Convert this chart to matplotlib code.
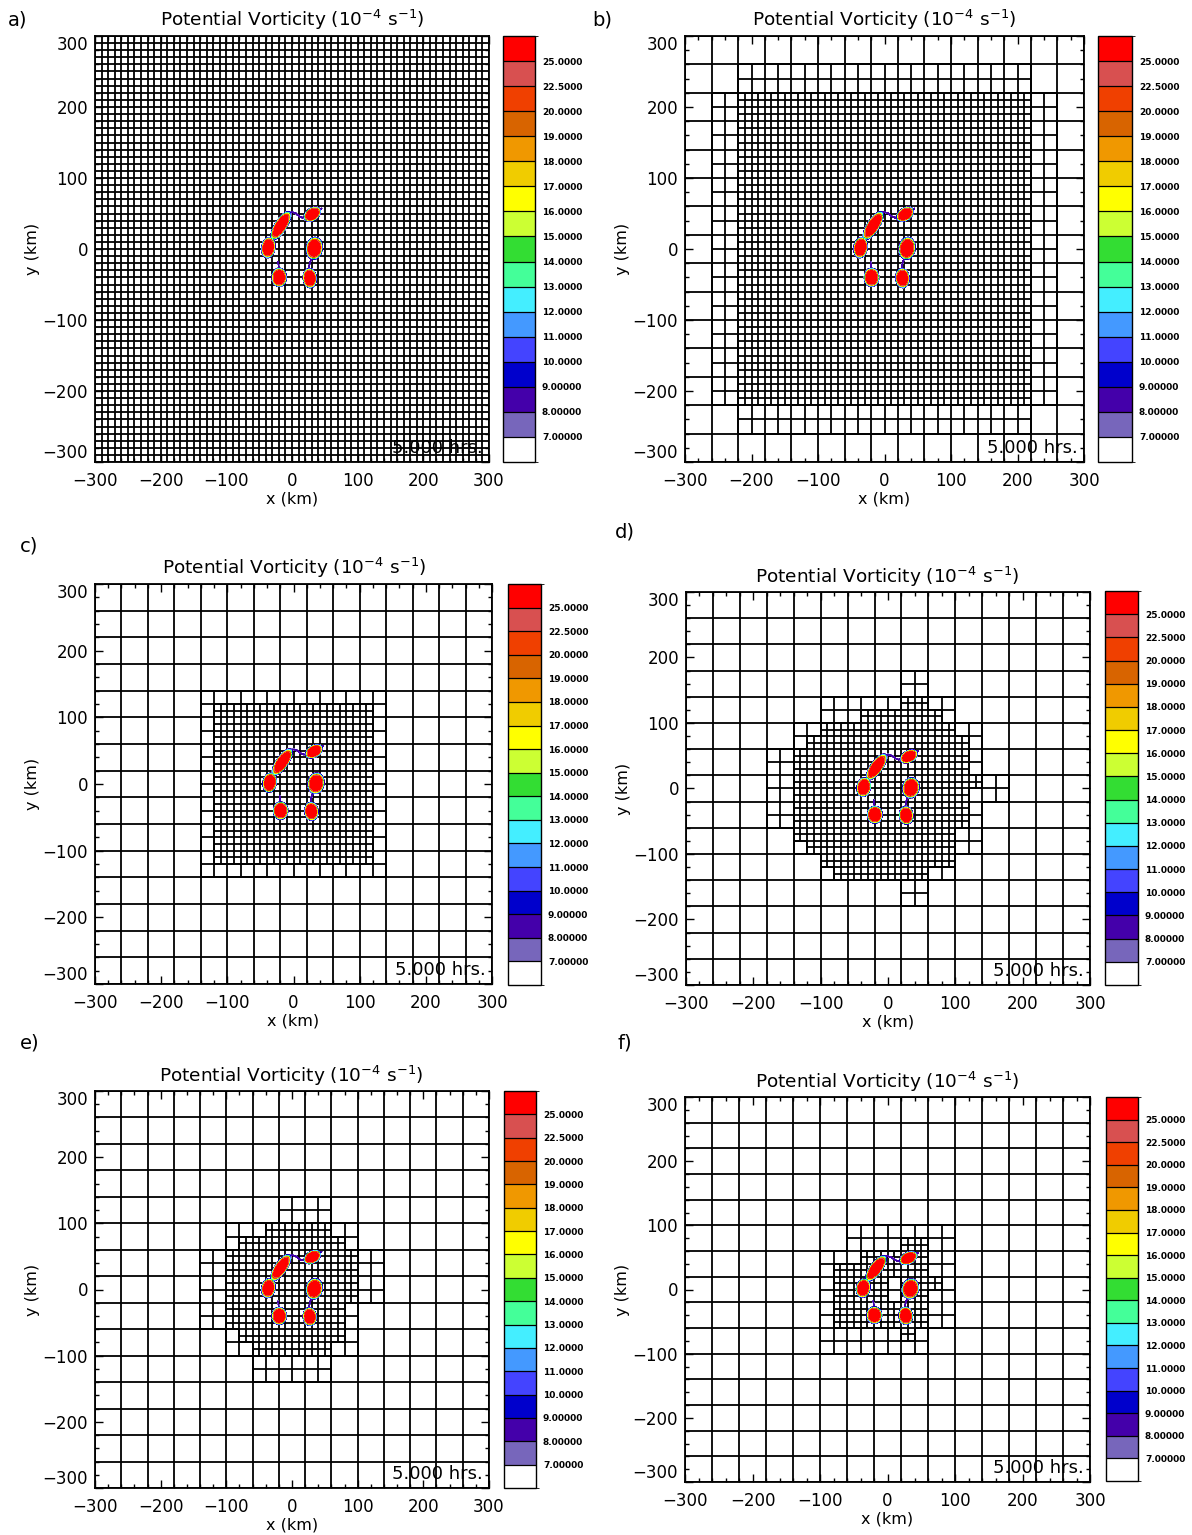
import numpy as np
import matplotlib
matplotlib.use("Agg")
import matplotlib as mpl
import matplotlib.pyplot as plt
from matplotlib.collections import LineCollection
from matplotlib.colors import ListedColormap, BoundaryNorm
from matplotlib.ticker import MultipleLocator

plt.rcParams['font.family'] = ['DejaVu Sans']

W, H = 1192, 1535

# ---------------- data ----------------
pv_levels = [7, 8, 9, 10, 11, 12, 13, 14, 15, 16, 17, 18, 19, 20, 22.5, 25]
pv_labels = ["7.00000", "8.00000", "9.00000", "10.0000", "11.0000", "12.0000",
             "13.0000", "14.0000", "15.0000", "16.0000", "17.0000", "18.0000",
             "19.0000", "20.0000", "22.5000", "25.0000"]
pv_colors = ['#7766BB', '#4400AA', '#0000CC', '#4444FF', '#4499FF', '#44EEFF',
             '#44FF99', '#33DD33', '#CCFF33', '#FFFF00', '#F0CC00', '#F09800',
             '#D86400', '#F04000', '#D85050', '#FF0000']
below_color = '#FFFFFF'

# vortex cores (km)
vortex_x = [-17, -36, 31, 34, -19.5, 27]
vortex_y = [33, 2, 49, 1, -40, -41]
vortex_a = [20.5, 12.8, 12, 13.7, 11.5, 12]      # semi-axis along angle
vortex_b = [7.7, 9, 7.7, 10.7, 9.8, 9]
vortex_ang = [55, 80, 30, 80, 90, 95]
vortex_amp = [40, 40, 40, 40, 40, 40]
vortex_power = 3.5

# thin filaments (km)
fil_1_x = [-6, 0, 6, 11, 16, 22]
fil_1_y = [50, 52, 50, 46, 44, 46]
fil_2_x = [31, 29, 27, 26]
fil_2_y = [-10, -15, -20, -26]
fil_3_x = [-20, -21]
fil_3_y = [-28, -18]
fil_4_x = [38, 45]
fil_4_y = [54, 57]
fil_amp = 9.0
fil_width = 1.6

# AMR meshes: rectangles (i0, i1, j0, j1) of 20-km cells; i from x=-300, j from y=+300 downward
mid_a = []
fine_a = [(0, 29, 0, 29)]
mid_b = [(2, 27, 4, 25), (4, 25, 2, 27)]
fine_b = [(4, 25, 4, 25)]
mid_c = [(8, 21, 8, 21)]
fine_c = [(9, 20, 9, 20)]
mid_d = [(16, 17, 6, 7), (10, 19, 8, 9), (8, 21, 10, 11), (6, 21, 12, 13),
         (6, 23, 14, 15), (6, 21, 16, 17), (8, 21, 18, 19), (10, 19, 20, 21),
         (16, 17, 22, 23)]
fine_d = [(16, 17, 8, 8), (13, 18, 9, 9), (10, 19, 10, 10), (9, 20, 11, 11),
          (8, 20, 12, 13), (8, 21, 14, 14), (8, 20, 15, 17), (8, 19, 18, 18),
          (9, 19, 19, 19), (10, 19, 20, 20), (11, 17, 21, 21)]
mid_e = [(14, 17, 8, 9), (10, 19, 10, 11), (8, 21, 12, 15), (8, 19, 16, 17),
         (10, 19, 18, 19), (12, 17, 20, 21)]
fine_e = [(13, 17, 10, 10), (11, 18, 11, 11), (10, 19, 12, 15), (10, 18, 16, 17),
          (11, 18, 18, 18), (12, 17, 19, 19)]
mid_f = [(12, 19, 10, 11), (10, 19, 12, 17), (10, 17, 18, 19)]
fine_f = [(16, 17, 11, 11), (13, 17, 12, 12), (11, 17, 13, 13), (11, 14, 14, 15),
          (16, 18, 14, 14), (16, 17, 15, 15), (11, 17, 16, 17), (16, 16, 18, 18)]

panel_letters = ['a)', 'b)', 'c)', 'd)', 'e)', 'f)']
time_label = "5.000 hrs."
title_text = "Potential Vorticity (10$^{-4}$ s$^{-1}$)"
ticks = [-300, -200, -100, 0, 100, 200, 300]

# ---------------- layout (pixels) ----------------
ax_px = [(95, 36, 489, 462), (685, 36, 1084, 462),
         (95, 584, 492, 984), (686, 592, 1090, 985),
         (95, 1091, 489, 1488), (685, 1097, 1090, 1482)]
cb_px = [(503, 36, 535, 462), (1098, 36, 1132, 462),
         (508, 584, 541, 985), (1105, 591, 1138, 985),
         (504, 1091, 536, 1488), (1106, 1097, 1138, 1481)]
title_px = [(292, 20), (884, 20), (294, 568), (887, 577), (291, 1076), (887, 1082)]
letter_px = [(8, 20), (592, 20), (20, 546), (615, 532), (20, 1043), (617, 1043)]
meshes = [(mid_a, fine_a), (mid_b, fine_b), (mid_c, fine_c),
          (mid_d, fine_d), (mid_e, fine_e), (mid_f, fine_f)]


def frac(l, t, r, b):
    return [l / W, 1 - b / H, (r - l) / W, (b - t) / H]


def level_map(mid, fine):
    L = np.zeros((30, 30), int)
    for i0, i1, j0, j1 in mid:
        L[j0:j1 + 1, i0:i1 + 1] = np.maximum(L[j0:j1 + 1, i0:i1 + 1], 1)
    for i0, i1, j0, j1 in fine:
        L[j0:j1 + 1, i0:i1 + 1] = 2
    for m in range(15):
        for k in range(15):
            blk = L[2 * m:2 * m + 2, 2 * k:2 * k + 2]
            if blk.max() > 0:
                blk[blk == 0] = 1
    return L


def mesh_segments(L):
    segs = set()

    def rect(x0, y0, s):
        x1, y1 = x0 + s, y0 + s
        segs.add(((x0, y0), (x1, y0)))
        segs.add(((x1, y0), (x1, y1)))
        segs.add(((x0, y1), (x1, y1)))
        segs.add(((x0, y0), (x0, y1)))

    for m in range(15):
        for k in range(15):
            blk = L[2 * m:2 * m + 2, 2 * k:2 * k + 2]
            if blk.max() == 0:
                rect(-300 + 40 * k, 300 - 40 * (m + 1), 40)
                continue
            for dj in (0, 1):
                for di in (0, 1):
                    i, j = 2 * k + di, 2 * m + dj
                    x0, y0 = -300 + 20 * i, 300 - 20 * (j + 1)
                    if L[j, i] <= 1:
                        rect(x0, y0, 20)
                    else:
                        for a in (0, 1):
                            for b in (0, 1):
                                rect(x0 + 10 * a, y0 + 10 * b, 10)
    return [list(s) for s in segs]


# PV field built from the vortex parameters
gx = np.arange(-80, 80.01, 0.3)
GX, GY = np.meshgrid(gx, gx)
Z = np.zeros_like(GX)
for x, y, a, b, ang, amp in zip(vortex_x, vortex_y, vortex_a, vortex_b, vortex_ang, vortex_amp):
    t = np.deg2rad(ang)
    dx, dy = GX - x, GY - y
    u = dx * np.cos(t) + dy * np.sin(t)
    v = -dx * np.sin(t) + dy * np.cos(t)
    r = np.sqrt((u / a) ** 2 + (v / b) ** 2)
    Z = np.maximum(Z, amp * np.exp(-r ** vortex_power))


def seg_dist(px, py, x0, y0, x1, y1):
    ddx, ddy = x1 - x0, y1 - y0
    tt = ((px - x0) * ddx + (py - y0) * ddy) / (ddx * ddx + ddy * ddy)
    tt = np.clip(tt, 0, 1)
    return np.hypot(px - (x0 + tt * ddx), py - (y0 + tt * ddy))


for fx, fy in [(fil_1_x, fil_1_y), (fil_2_x, fil_2_y), (fil_3_x, fil_3_y), (fil_4_x, fil_4_y)]:
    d = np.full_like(GX, 1e9)
    for n in range(len(fx) - 1):
        d = np.minimum(d, seg_dist(GX, GY, fx[n], fy[n], fx[n + 1], fy[n + 1]))
    Z = np.maximum(Z, fil_amp * np.exp(-(d / fil_width) ** 2))

fig = plt.figure(figsize=(W / 100, H / 100), dpi=100)

cmap = ListedColormap([below_color] + pv_colors)
bounds = [6] + pv_levels + [27]
norm = BoundaryNorm(bounds, cmap.N)

for p in range(6):
    l, t, r, b = ax_px[p]
    ax = fig.add_axes(frac(l, t, r, b))
    L = level_map(*meshes[p])
    lc = LineCollection(mesh_segments(L), colors='black', linewidths=1.3, zorder=1)
    ax.add_collection(lc)
    ax.contourf(GX, GY, Z, levels=pv_levels + [1000], colors=pv_colors, zorder=3)
    ax.set_xlim(-300, 300)
    ax.set_ylim(-300, 300)
    ax.set_xticks(ticks)
    ax.set_yticks(ticks)
    ax.xaxis.set_minor_locator(MultipleLocator(20))
    ax.yaxis.set_minor_locator(MultipleLocator(20))
    ax.tick_params(which='both', direction='in', top=True, right=True, labelsize=12, width=1)
    ax.tick_params(which='major', length=6)
    ax.tick_params(which='minor', length=3)
    ax.tick_params(axis='x', pad=7)
    ax.tick_params(axis='y', pad=5)
    ylabs = ax.get_yticklabels()
    ylabs[0].set_va('bottom')
    ylabs[-1].set_va('top')
    for s in ax.spines.values():
        s.set_linewidth(1.3)
    ax.set_xlabel("x (km)", fontsize=11.5, labelpad=1)
    ax.set_ylabel("y (km)", fontsize=11.5, labelpad=2)
    ax.text(0.985, 0.012, time_label, transform=ax.transAxes, ha='right', va='bottom',
            fontsize=13, zorder=5)

    cl, ct, cr, cbm = cb_px[p]
    cax = fig.add_axes(frac(cl, ct, cr, cbm))
    sm = mpl.cm.ScalarMappable(norm=norm, cmap=cmap)
    cb = fig.colorbar(sm, cax=cax, boundaries=bounds, spacing='uniform',
                      ticks=pv_levels, drawedges=True)
    cb.ax.set_yticklabels(pv_labels)
    cb.ax.tick_params(length=0, labelsize=6.5, pad=5)
    for lab in cb.ax.get_yticklabels():
        lab.set_fontweight('bold')
    cb.dividers.set_linewidth(0.9)
    cb.outline.set_linewidth(1.0)

    tx, ty = title_px[p]
    fig.text(tx / W, 1 - ty / H, title_text, ha='center', va='center', fontsize=13.3)
    lx, ly = letter_px[p]
    fig.text(lx / W, 1 - ly / H, panel_letters[p], ha='left', va='center', fontsize=14)

fig.savefig("out.png", dpi=100)
